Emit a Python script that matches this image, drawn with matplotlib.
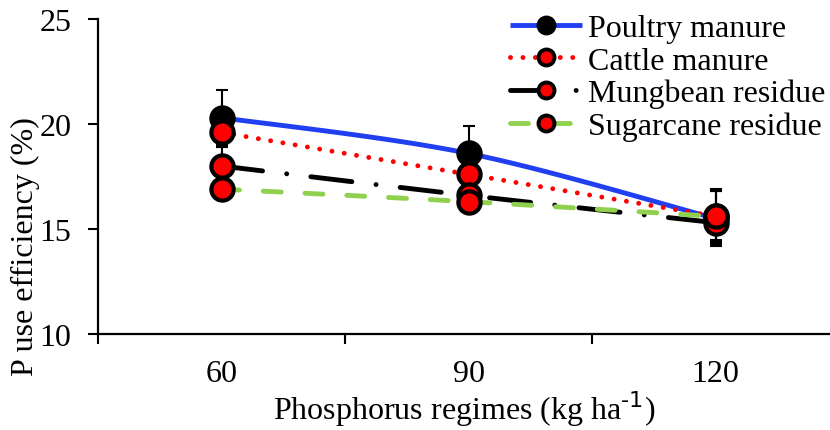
import numpy as np
import matplotlib
matplotlib.use("Agg")
import matplotlib.pyplot as plt

plt.rcParams['font.family'] = ['Liberation Serif', 'DejaVu Serif']

categories = ["60", "90", "120"]
series_names = ["Poultry manure", "Cattle manure", "Mungbean residue", "Sugarcane residue"]
poultry = [20.3, 18.6, 15.5]
cattle = [19.6, 17.6, 15.6]
mungbean = [18.0, 16.6, 15.3]
sugarcane = [16.9, 16.3, 15.6]
poultry_err = [1.3, 1.3, 1.3]
cattle_err = [0.7, 0.6, 1.3]
mungbean_err = [0.9, 0.5, 0.8]
sugarcane_err = [0.5, 0.4, 1.2]

values = [poultry, cattle, mungbean, sugarcane]
errors = [poultry_err, cattle_err, mungbean_err, sugarcane_err]
colors = ["#1f3ff0", "#ff0000", "#000000", "#8fd14f"]
face = ["#000000", "#ff0000", "#ff0000", "#ff0000"]
dashes = [None, (0.01, 2.55), (8.5, 5.0, 0.01, 5.0), (3.7, 4.9)]
LW = 3.5
FS = 23


def smooth(xs, ys, n=60):
    xs = np.asarray(xs, float)
    ys = np.asarray(ys, float)
    px = np.concatenate([[xs[0]], xs, [xs[-1]]])
    py = np.concatenate([[ys[0]], ys, [ys[-1]]])
    outx, outy = [], []
    t = np.linspace(0, 1, n)
    for i in range(1, len(px) - 2):
        p0 = np.array([px[i], py[i]])
        p3 = np.array([px[i + 1], py[i + 1]])
        p1 = p0 + (np.array([px[i + 1], py[i + 1]]) - np.array([px[i - 1], py[i - 1]])) / 6
        p2 = p3 - (np.array([px[i + 2], py[i + 2]]) - np.array([px[i], py[i]])) / 6
        b = ((1 - t) ** 3)[:, None] * p0 + (3 * (1 - t) ** 2 * t)[:, None] * p1 + \
            (3 * (1 - t) * t ** 2)[:, None] * p2 + (t ** 3)[:, None] * p3
        outx.extend(b[:, 0])
        outy.extend(b[:, 1])
    return np.array(outx), np.array(outy)


fig = plt.figure(figsize=(8.30, 4.31), dpi=100)
ax = fig.add_axes([98 / 830, 1 - 335 / 431, (830 - 98) / 830, (335 - 20) / 431])

x = np.arange(len(categories)) + 0.5

handles = []
for i, (vals, errs) in enumerate(zip(values, errors)):
    sx, sy = smooth(x, vals)
    ln, = ax.plot(sx, sy, color=colors[i], lw=LW, solid_capstyle="butt",
                  dash_capstyle="round", zorder=2 + i * 0.1)
    if dashes[i] is not None:
        ln.set_dashes(dashes[i])
    ax.errorbar(x, vals, yerr=errs, fmt="none", ecolor="black", elinewidth=1.5,
                capsize=4.5, capthick=1.5, zorder=3)
    ax.plot(x, vals, ls="none", marker="o", ms=16, mfc=face[i], mec="black",
            mew=3, zorder=4 + i * 0.1)
    h, = ax.plot([], [], color=colors[i], lw=LW, marker="o", ms=11.5, mfc=face[i],
                 mec="black", mew=2.8, dash_capstyle="round", solid_capstyle="butt")
    if dashes[i] is not None:
        h.set_dashes(dashes[i])
    handles.append(h)

ax.set_xlim(0, (830 - 98) / 247)
ax.set_ylim(10, 25)
ax.set_yticks([10, 15, 20, 25])
ax.set_xticks([0, 1, 2])
ax.set_xticklabels([])
ax.set_xticks(x, minor=True)
ax.set_xticklabels(categories, minor=True)
ax.tick_params(axis="x", which="minor", length=0, pad=18, labelsize=FS)
ax.tick_params(axis="both", which="major", direction="out", length=7, width=1.5, labelsize=FS)
ax.tick_params(axis="y", which="major", pad=12)
for s in ["top", "right"]:
    ax.spines[s].set_visible(False)
for s in ["left", "bottom"]:
    ax.spines[s].set_linewidth(1.6)

ax.set_ylabel("P use efficiency (%)", fontsize=FS)
ax.yaxis.set_label_coords(-0.079, 0.28)
ax.set_xlabel("Phosphorus regimes (kg ha$^{\\text{-1}}$)", fontsize=FS, labelpad=0)

leg = ax.legend(handles, series_names, loc="upper right", bbox_to_anchor=(1.02, 1.078),
                frameon=False, fontsize=FS, handlelength=2.25, handletextpad=0.2,
                labelspacing=0.1, borderaxespad=0.2)

fig.savefig("out.png", dpi=100)
